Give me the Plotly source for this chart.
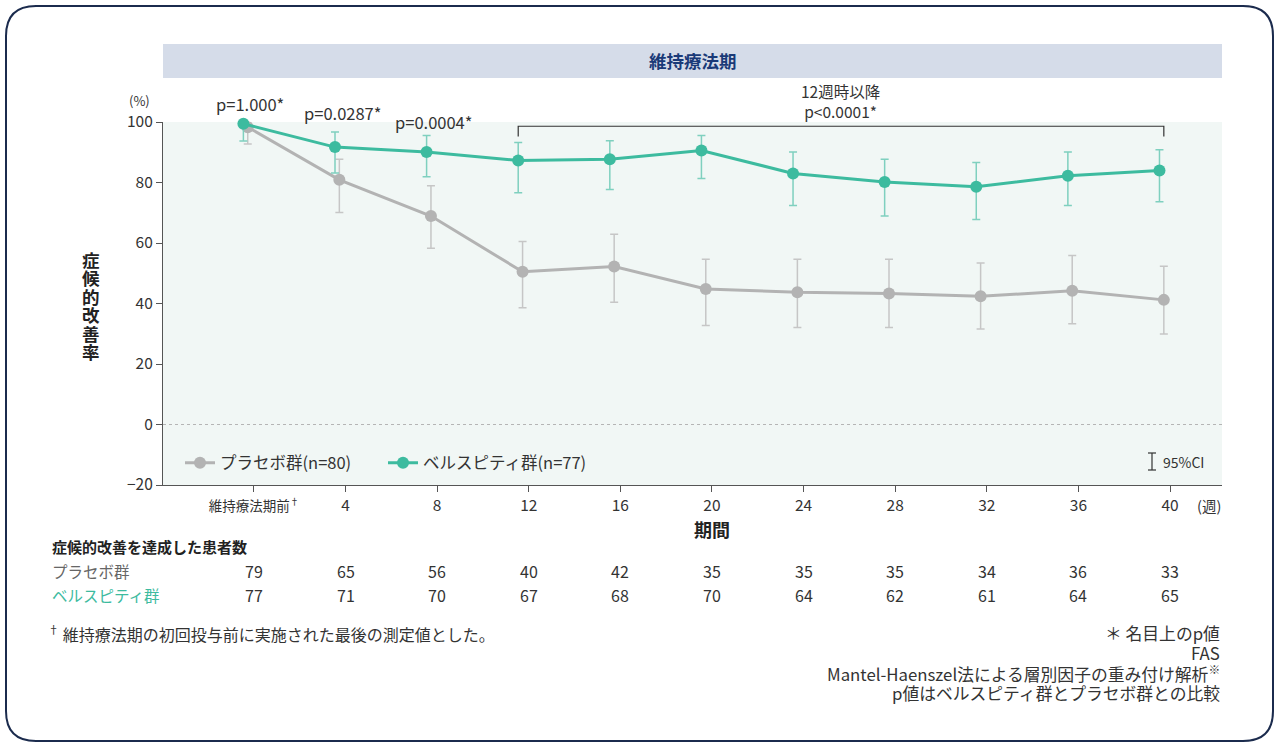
import plotly.graph_objects as go

# ---------------- data ----------------
weeks = [0, 4, 8, 12, 16, 20, 24, 28, 32, 36, 40]
tick_labels = ["<span style='font-size:13.5px'>維持療法期前<sup>†</sup></span>", "4", "8", "12", "16", "20",
               "24", "28", "32", "36", "40"]

placebo_rate = [98.3, 80.9, 68.9, 50.5, 52.2, 44.8, 43.7, 43.3, 42.4, 44.2, 41.2]
placebo_upper = [100.0, 87.7, 78.9, 60.5, 62.9, 54.6, 54.6, 54.6, 53.4, 55.9, 52.3]
placebo_lower = [92.7, 70.1, 58.3, 38.6, 40.4, 32.7, 32.1, 32.1, 31.6, 33.3, 29.9]

belsp_rate = [99.4, 91.7, 90.1, 87.3, 87.7, 90.6, 83.0, 80.2, 78.6, 82.2, 84.0]
belsp_upper = [100.0, 96.7, 95.5, 93.2, 93.8, 95.5, 90.1, 87.7, 86.6, 90.1, 90.8]
belsp_lower = [93.7, 83.1, 81.9, 76.6, 77.7, 81.3, 72.4, 68.9, 67.8, 72.4, 73.6]

placebo_n = [79, 65, 56, 40, 42, 35, 35, 35, 34, 36, 33]
belsp_n = [77, 71, 70, 67, 68, 70, 64, 62, 61, 64, 65]

pvalue_labels = ["p=1.000*", "p=0.0287*", "p=0.0004*"]
pvalue_weeks = [0, 4, 8]

series_names = ["プラセボ群(n=80)", "ベルスピティ群(n=77)"]
row_names = ["プラセボ群", "ベルスピティ群"]

# ---------------- style ----------------
FONT = "Noto Sans CJK JP"
GRAY = "#b3b3b3"
GRAY_ERR = "#c6c6c6"
GREEN = "#3dbb9f"
GREEN_ERR = "#7fd0bf"
TXT = "#333333"
NAVY = "#1b2b4d"

GRAY_DODGE = -0.27
GREEN_DODGE = -0.46

L, R, T, B = 163, 58, 122, 263
W, H = 1280, 748
PW, PH = W - L - R, H - T - B


def px(x):
    return (x - L) / PW


def py(y):
    return (H - B - y) / PH


fig = go.Figure()

fig.add_trace(go.Scatter(
    x=[w + GRAY_DODGE for w in weeks], y=placebo_rate,
    mode="lines+markers", name=series_names[0], cliponaxis=False, legend="legend",
    line=dict(color=GRAY, width=3),
    marker=dict(color=GRAY, size=12),
    error_y=dict(type="data", symmetric=False,
                 array=[u - r for u, r in zip(placebo_upper, placebo_rate)],
                 arrayminus=[r - l for r, l in zip(placebo_rate, placebo_lower)],
                 color=GRAY_ERR, thickness=1.5, width=4),
))
fig.add_trace(go.Scatter(
    x=[w + GREEN_DODGE for w in weeks], y=belsp_rate,
    mode="lines+markers", name=series_names[1], cliponaxis=False, legend="legend2",
    line=dict(color=GREEN, width=3),
    marker=dict(color=GREEN, size=12),
    error_y=dict(type="data", symmetric=False,
                 array=[u - r for u, r in zip(belsp_upper, belsp_rate)],
                 arrayminus=[r - l for r, l in zip(belsp_rate, belsp_lower)],
                 color=GREEN_ERR, thickness=1.5, width=4),
))

shapes = []
annotations = []

# outer rounded border
x0, x1 = px(6), px(1273)
y0, y1 = py(741), py(6)
rx, ry = 30 / PW, 30 / PH
path = (f"M {x0+rx},{y1} L {x1-rx},{y1} Q {x1},{y1} {x1},{y1-ry} "
        f"L {x1},{y0+ry} Q {x1},{y0} {x1-rx},{y0} L {x0+rx},{y0} "
        f"Q {x0},{y0} {x0},{y0+ry} L {x0},{y1-ry} Q {x0},{y1} {x0+rx},{y1} Z")
shapes.append(dict(type="path", path=path, xref="paper", yref="paper",
                   line=dict(color=NAVY, width=2), fillcolor="rgba(0,0,0,0)", layer="below"))

# header band
shapes.append(dict(type="rect", xref="paper", yref="paper", x0=0, x1=1, y0=py(78), y1=py(44),
                   fillcolor="#d5dce9", line=dict(width=0), layer="below"))
annotations.append(dict(text="<b>維持療法期</b>", xref="paper", yref="paper", x=0.5, y=py(61),
                        showarrow=False, font=dict(size=17.5, color="#1a3a78", family=FONT),
                        xanchor="center", yanchor="middle"))

# zero dotted line
shapes.append(dict(type="line", xref="paper", yref="y", x0=0, x1=1, y0=0, y1=0,
                   line=dict(color="#b5b5b5", width=1, dash="dot")))

# bracket for 12w+
bx0, bx1 = 12 + GREEN_DODGE, 40 + GRAY_DODGE
shapes.append(dict(type="path", xref="x", yref="y",
                   path=f"M {bx0},95.2 L {bx0},98.6 L {bx1},98.6 L {bx1},95.2",
                   line=dict(color="#333333", width=1.2)))
annotations.append(dict(text="12週時以降<br>p<0.0001*", xref="x", yref="paper",
                        x=(bx0 + bx1) / 2, y=py(101), showarrow=False, xanchor="center",
                        yanchor="middle", font=dict(size=15.5, color=TXT, family=FONT)))

# p-values
for lab, wk, ypix in zip(pvalue_labels, pvalue_weeks, [104, 113, 122]):
    annotations.append(dict(text=lab, x=wk - 0.15, y=py(ypix), xref="x", yref="paper", showarrow=False,
                            xanchor="center", yanchor="middle",
                            font=dict(size=16.5, color=TXT, family=FONT)))

# (%) and (週)
annotations.append(dict(text="(%)", xref="paper", yref="paper", x=px(139), y=py(101),
                        xanchor="center", yanchor="middle",
                        showarrow=False, font=dict(size=13, color=TXT, family=FONT)))
annotations.append(dict(text="(週)", xref="paper", yref="paper", x=px(1209), y=py(505),
                        xanchor="center", yanchor="middle",
                        showarrow=False, font=dict(size=14.5, color=TXT, family=FONT)))

# y title (vertical stacked, one char per line)
for i, ch in enumerate("症候的改善率"):
    annotations.append(dict(text=f"<b>{ch}</b>", xref="paper", yref="paper",
                            x=px(91), y=py(259 + 18.5 * i), showarrow=False, xanchor="center",
                            yanchor="middle",
                            font=dict(size=17.5, color="#222222", family=FONT)))
# x title
annotations.append(dict(text="<b>期間</b>", xref="paper", yref="paper", x=px(712), y=py(529),
                        showarrow=False, xanchor="center", yanchor="middle",
                        font=dict(size=18, color="#222222", family=FONT)))

# 95% CI key
ci_x = px(1152)
shapes.append(dict(type="line", xref="paper", yref="paper", x0=ci_x, x1=ci_x, y0=py(470), y1=py(453),
                   line=dict(color="#333333", width=1.2)))
for yy in (453, 470):
    shapes.append(dict(type="line", xref="paper", yref="paper", x0=px(1148), x1=px(1156),
                       y0=py(yy), y1=py(yy), line=dict(color="#333333", width=1.2)))
annotations.append(dict(text="95%CI", xref="paper", yref="paper", x=px(1161), y=py(462),
                        showarrow=False, xanchor="left", yanchor="middle",
                        font=dict(size=14, color=TXT, family=FONT)))

# table
annotations.append(dict(text="<b>症候的改善を達成した患者数</b>", xref="paper", yref="paper",
                        x=px(50), y=py(546), showarrow=False, xanchor="left", yanchor="middle",
                        font=dict(size=15, color="#222222", family=FONT)))
row_colors = ["#666666", GREEN]
for name, counts, col, yy in zip(row_names, [placebo_n, belsp_n], row_colors, [571, 595]):
    annotations.append(dict(text=name, xref="paper", yref="paper", x=px(50), y=py(yy),
                            showarrow=False, xanchor="left", yanchor="middle",
                            font=dict(size=15.5, color=col, family=FONT)))
    for wk, c in zip(weeks, counts):
        annotations.append(dict(text=str(c), xref="x", yref="paper", x=wk, y=py(yy),
                                showarrow=False, xanchor="center", yanchor="middle",
                                font=dict(size=16, color=TXT, family=FONT)))

# footnotes
annotations.append(dict(text="<sup>†</sup> 維持療法期の初回投与前に実施された最後の測定値とした。",
                        xref="paper", yref="paper", x=px(46), y=py(633), showarrow=False,
                        xanchor="left", yanchor="middle",
                        font=dict(size=16, color=TXT, family=FONT)))
right_notes = ["＊ 名目上のp値", "FAS",
               "Mantel-Haenszel法による層別因子の重み付け解析<sup>※</sup>",
               "p値はベルスピティ群とプラセボ群との比較"]
for i, t in enumerate(right_notes):
    annotations.append(dict(text=t, xref="paper", yref="paper", x=px(1222), y=py(633 + 20 * i),
                            showarrow=False, xanchor="right", yanchor="middle",
                            font=dict(size=16.8, color=TXT, family=FONT)))

legend_common = dict(orientation="h", xanchor="left", yanchor="middle",
                     bgcolor="rgba(0,0,0,0)", font=dict(size=16.5, color=TXT, family=FONT),
                     itemwidth=30)

fig.update_layout(
    width=W, height=H,
    margin=dict(l=L, r=R, t=T, b=B),
    paper_bgcolor="white",
    plot_bgcolor="#f1f7f5",
    font=dict(family=FONT, size=14, color=TXT),
    showlegend=True,
    legend=dict(x=px(180), y=py(463), **legend_common),
    legend2=dict(x=px(383), y=py(463), **legend_common),
    shapes=shapes,
    annotations=annotations,
    xaxis=dict(range=[-3.97, 42.27], tickmode="array", tickvals=weeks, ticktext=tick_labels,
               showgrid=False, zeroline=False, showline=True, linecolor="#555555", linewidth=1.2,
               ticks="outside", ticklen=6, tickcolor="#555555",
               tickfont=dict(size=15.5, color=TXT, family=FONT), fixedrange=True),
    yaxis=dict(range=[-20, 100], tickvals=[-20, 0, 20, 40, 60, 80, 100],
               showgrid=False, zeroline=False, showline=True, linecolor="#555555", linewidth=1.2,
               ticks="outside", ticklen=6, tickcolor="#555555",
               tickfont=dict(size=15.5, color=TXT, family=FONT), fixedrange=True),
)

fig.write_html("out.html")
